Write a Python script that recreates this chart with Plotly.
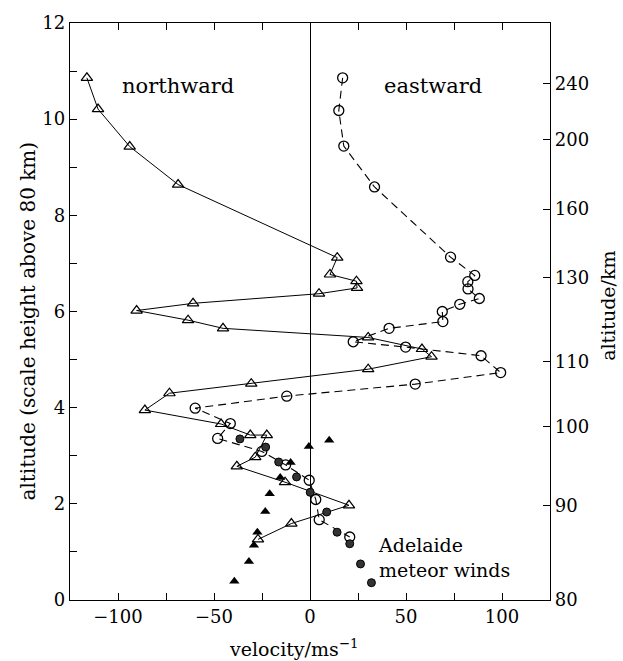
import plotly.graph_objects as go

# Northward wind (open triangles, solid line): velocity m/s, altitude in scale heights above 80 km
north_v = [-116.2, -110.4, -93.9, -68.7, 14.2, 10.4, 24.2, 24.5, 4.7, -60.9, -90.3,
           -63.5, -45.3, 30.3, 58.3, 63.3, 30.3, -30.6, -73.2, -86.0, -46.3, -31.1,
           -22.5, -28.5, -38.1, -13.0, 20.3, -9.7, -27.1]
north_h = [10.86, 10.21, 9.43, 8.64, 7.12, 6.77, 6.63, 6.49, 6.37, 6.17, 6.02,
           5.82, 5.65, 5.46, 5.22, 5.06, 4.80, 4.50, 4.30, 3.95, 3.66, 3.43,
           3.43, 2.97, 2.78, 2.45, 1.97, 1.59, 1.26]

# Eastward wind (open circles, dashed line)
east_v = [17.0, 15.0, 17.6, 33.6, 73.2, 85.8, 82.2, 82.3, 88.2, 78.0, 68.9,
          69.2, 41.2, 22.5, 49.8, 89.1, 99.3, 54.8, -12.1, -59.8, -41.5, -48.1,
          -25.1, -12.7, -0.4, 3.0, 4.8, 20.7]
east_h = [10.86, 10.18, 9.44, 8.59, 7.13, 6.75, 6.62, 6.47, 6.27, 6.15, 6.00,
          5.79, 5.65, 5.37, 5.26, 5.08, 4.73, 4.49, 4.24, 3.99, 3.67, 3.36,
          3.09, 2.81, 2.49, 2.09, 1.67, 1.31]

# Adelaide meteor winds: eastward (filled circles) and northward (filled triangles)
meteor_east_v = [-36.5, -23.1, -16.3, -7.0, 0.1, 8.7, 14.1, 20.7, 26.3, 32.0]
meteor_east_h = [3.35, 3.18, 2.87, 2.56, 2.24, 1.83, 1.41, 1.17, 0.75, 0.36]
meteor_north_v = [-39.4, -31.8, -29.2, -27.4, -23.3, -21.0, -15.5, -10.1, -0.6, 10.0]
meteor_north_h = [0.39, 0.80, 1.14, 1.41, 1.84, 2.21, 2.55, 2.86, 3.19, 3.32]

# Axis ticks and labels
vel_ticks = [-100, -50, 0, 50, 100]
vel_labels = ["\u2212100", "\u221250", "0", "50", "100"]
vel_minor = [-125, -100, -75, -50, -25, 0, 25, 50, 75, 100, 125]
sh_ticks = [0, 2, 4, 6, 8, 10, 12]
sh_minor = list(range(0, 13))
km_labels = ["80", "90", "100", "110", "130", "160", "200", "240"]
km_scale_heights = [0.0, 1.97, 3.61, 4.95, 6.71, 8.13, 9.58, 10.74]

FONT = "DejaVu Serif"
INK = "black"

fig = go.Figure()

fig.add_trace(go.Scatter(
    x=north_v, y=north_h, mode="lines+markers", name="northward",
    line=dict(color=INK, width=1),
    marker=dict(symbol="triangle-up-open", size=10, color=INK, line=dict(width=1.2)),
))
fig.add_trace(go.Scatter(
    x=east_v, y=east_h, mode="lines+markers", name="eastward",
    line=dict(color=INK, width=1.1, dash="8px,5px"),
    marker=dict(symbol="circle-open", size=10, color=INK, line=dict(width=1.3)),
))
fig.add_trace(go.Scatter(
    x=meteor_east_v, y=meteor_east_h, mode="markers", name="meteor eastward",
    marker=dict(symbol="circle", size=8, color="#333333", line=dict(color=INK, width=1)),
))
fig.add_trace(go.Scatter(
    x=meteor_north_v, y=meteor_north_h, mode="markers", name="meteor northward",
    marker=dict(symbol="triangle-up", size=9, color=INK),
))
# invisible trace to carry the km axis on the right
fig.add_trace(go.Scatter(x=[0], y=[0], yaxis="y2", mode="markers",
                         marker=dict(opacity=0), showlegend=False, hoverinfo="skip"))

fig.add_annotation(x=-68.5, y=10.7, xref="x", yref="y", text="northward",
                   showarrow=False, font=dict(family=FONT, size=21, color=INK))
fig.add_annotation(x=63.8, y=10.7, xref="x", yref="y", text="eastward",
                   showarrow=False, font=dict(family=FONT, size=21, color=INK))
fig.add_annotation(x=34.5, y=0.88, xref="x", yref="y",
                   text="Adelaide<br>meteor winds", align="left", xanchor="left",
                   showarrow=False, font=dict(family=FONT, size=19, color=INK))

# axis titles
fig.add_annotation(x=0.4646, y=-0.083, xref="paper", yref="paper",
                   text="velocity/ms<sup>\u22121</sup>", showarrow=False,
                   xanchor="center", yanchor="middle",
                   font=dict(family=FONT, size=19, color=INK))
fig.add_annotation(x=-0.088, y=0.484, xref="paper", yref="paper",
                   text="altitude (scale height above 80 km)", showarrow=False,
                   textangle=-90, xanchor="center", yanchor="middle",
                   font=dict(family=FONT, size=20, color=INK))
fig.add_annotation(x=1.121, y=0.51, xref="paper", yref="paper",
                   text="altitude/km", showarrow=False,
                   textangle=-90, xanchor="center", yanchor="middle",
                   font=dict(family=FONT, size=19, color=INK))

fig.update_layout(
    width=623, height=661,
    margin=dict(l=70, r=73, t=21, b=61),
    paper_bgcolor="white", plot_bgcolor="white",
    showlegend=False,
    font=dict(family=FONT, size=18, color=INK),
    xaxis=dict(
        range=[-125, 125], tickmode="array", tickvals=vel_ticks, ticktext=vel_labels,
        ticks="inside", ticklen=7, tickcolor=INK,
        minor=dict(tickmode="array", tickvals=vel_minor, ticks="inside",
                   ticklen=7, tickcolor=INK, showgrid=False),
        showline=True, linecolor=INK, linewidth=1.3, mirror="ticks", showgrid=False,
        zeroline=True, zerolinecolor=INK, zerolinewidth=1.3,
    ),
    yaxis=dict(
        range=[0, 12], tickmode="array", tickvals=sh_ticks,
        ticks="inside", ticklen=7, tickcolor=INK,
        minor=dict(tickmode="array", tickvals=sh_minor, ticks="inside",
                   ticklen=7, tickcolor=INK, showgrid=False),
        showline=True, linecolor=INK, linewidth=1.3, showgrid=False, zeroline=False,
    ),
    yaxis2=dict(
        range=[0, 12], overlaying="y", side="right", tickmode="array",
        tickvals=km_scale_heights, ticktext=km_labels,
        ticks="inside", ticklen=7, tickcolor=INK, showline=True, linecolor=INK,
        linewidth=1.3, showgrid=False, zeroline=False,
    ),
)

fig.write_html("out.html")
